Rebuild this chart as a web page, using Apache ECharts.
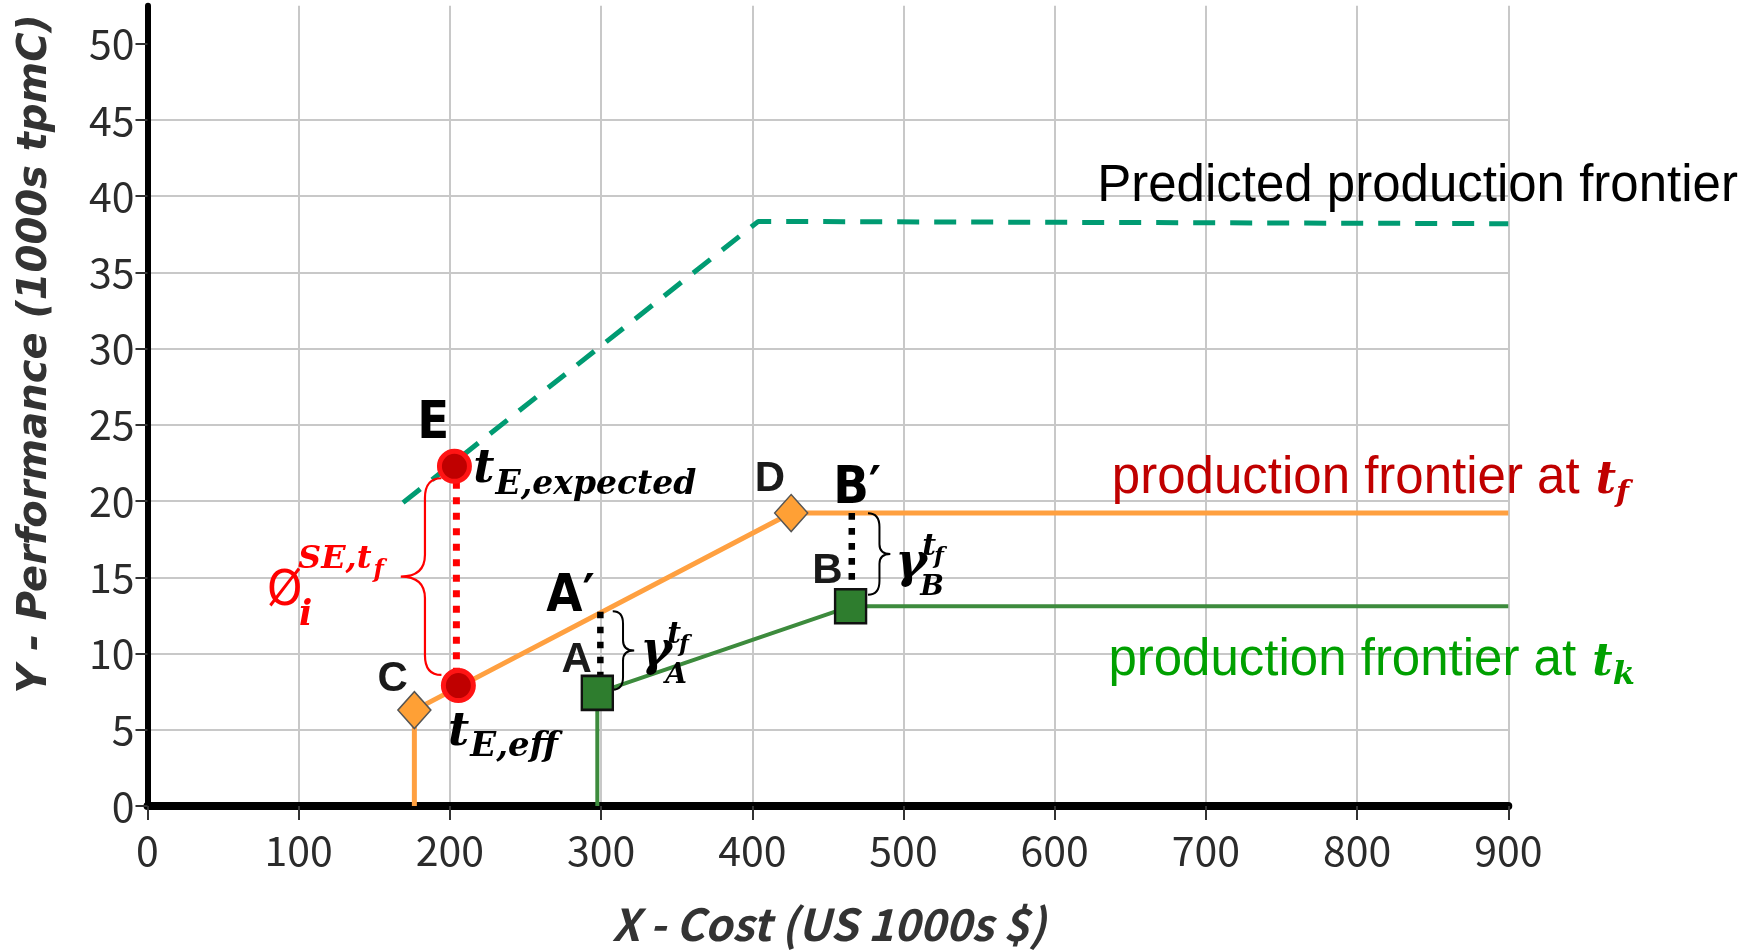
<!DOCTYPE html>
<html>
<head>
<meta charset="utf-8">
<script src="https://cdn.jsdelivr.net/npm/echarts@6/dist/echarts.min.js"></script>
<style>
html,body{margin:0;padding:0;background:#fff;}
#c{width:1761px;height:951px;}
</style>
</head>
<body>
<div id="c"></div>
<script>
// ---------------- data ----------------
const xTicks = [0, 100, 200, 300, 400, 500, 600, 700, 800, 900];
const yTicks = [0, 5, 10, 15, 20, 25, 30, 35, 40, 45, 50];

// production frontier at t_f (orange): vertical from C, C -> D, flat after D
const frontierTf = [[176.5, 0], [176.5, 6.29], [425.7, 19.22], [900, 19.22]];
// production frontier at t_k (green): vertical from A, A -> B, flat after B
const frontierTk = [[297.5, 0], [297.5, 7.42], [465, 13.1], [900, 13.1]];
// predicted production frontier (dashed)
const predicted = [[169, 19.9], [404, 38.35], [900, 38.2]];

const pointsCD = [[176.5, 6.29], [425.7, 19.22]];   // C, D (diamonds)
const pointsAB = [[297.5, 7.42], [465, 13.1]];      // A, B (squares)
const pointsE = [[203, 22.28], [205.6, 7.9]];       // E expected, E eff (circles)

const gapE = [[204.3, 22.28], [204.3, 7.9]];        // red dotted E -> E,eff
const gapA = [[299.5, 12.75], [299.5, 7.42]];       // A' -> A
const gapB = [[465.8, 19.22], [465.8, 13.1]];       // B' -> B

// braces: [xEnd, xSpine, xTip, yTop, yBottom] in data units
const braces = [
  [194.4, 183.5, 167.5, 21.5, 8.6],
  [307.7, 314.5, 321.9, 12.77, 7.63],
  [476.5, 484.1, 491.3, 19.2, 13.86]
];

// ---------------- text helpers ----------------
const mctx = document.createElement('canvas').getContext('2d');
function tw(text, font) { mctx.font = font; mctx.textBaseline = 'alphabetic'; return mctx.measureText(text).width; }
const midCache = {};
function midToBase(font) {
  if (midCache[font] != null) return midCache[font];
  mctx.font = font;
  mctx.textBaseline = 'middle';
  const a = mctx.measureText('H').actualBoundingBoxDescent;
  mctx.textBaseline = 'alphabetic';
  const b = mctx.measureText('H').actualBoundingBoxDescent;
  return (midCache[font] = a - b);
}

const COND = '"DejaVu Sans Condensed", "Liberation Sans", sans-serif';
const SRC = '"Noto Sans CJK KR", "Noto Sans", sans-serif';
const F_PT = 'bold 42px "Liberation Sans", Arial, sans-serif';
const F_BIG = 'bold 52px ' + COND;
const M = s => 'italic bold ' + s + 'px "DejaVu Serif", serif';
const F_TXT = '51px "Liberation Sans", Arial, sans-serif';
const F_PHI = '50px ' + COND;

// annotation texts: anchor = [x, baseline y] in data units
const labels = [
  { at: [162.1, 7.57], align: 'center', c: '#1a1a1a', p: [{ t: 'C', f: F_PT }] },
  { at: [411.7, 20.65], align: 'center', c: '#1a1a1a', p: [{ t: 'D', f: F_PT }] },
  { at: [283.9, 8.8], align: 'center', c: '#1a1a1a', p: [{ t: 'A', f: F_PT }] },
  { at: [449.7, 14.65], align: 'center', c: '#1a1a1a', p: [{ t: 'B', f: F_PT }] },
  { at: [178.4, 24.16], c: '#000', p: [{ t: 'E', f: F_BIG }] },
  { at: [263.8, 12.77], c: '#000', p: [{ t: 'A\u2032', f: F_BIG }] },
  { at: [453.5, 19.88], c: '#000', p: [{ t: 'B\u2032', f: F_BIG }] },
  { at: [215.5, 21.24], c: '#000', p: [{ t: 't', f: M(46) }, { t: 'E,expected', f: M(33), dy: 12, gap: 1 }] },
  { at: [198.8, 3.99], c: '#000', p: [{ t: 't', f: M(46) }, { t: 'E,eff', f: M(34), dy: 11, gap: 1 }] },
  { at: [79.1, 13.21], c: '#FF0000', p: [
      { t: '\u00D8', f: F_PHI },
      { t: 'SE,t', f: M(32), dx: 31, dy: -37 },
      { t: 'f', f: M(24), dy: -28, gap: 2 },
      { t: 'i', f: M(35), dx: 32, dy: 20 }] },
  { at: [325.9, 9.27], c: '#000', p: [
      { t: '\u03B3', f: M(48) },
      { t: 't', f: M(30), dx: 27, dy: -22 },
      { t: 'f', f: M(23), dy: -14, gap: -2 },
      { t: 'A', f: M(28), dx: 25, dy: 18 }] },
  { at: [494.5, 15.04], c: '#000', p: [
      { t: '\u03B3', f: M(48) },
      { t: 't', f: M(30), dx: 27, dy: -22 },
      { t: 'f', f: M(23), dy: -14, gap: -2 },
      { t: 'B', f: M(28), dx: 25, dy: 18 }] },
  { at: [628.1, 39.7], c: '#000', p: [{ t: 'Predicted production frontier', f: F_TXT }] },
  { at: [637.8, 20.53], c: '#C00000', p: [
      { t: 'production frontier at ', f: F_TXT },
      { t: 't', f: M(44), gap: 2 },
      { t: 'f', f: M(30), dy: 9, gap: 0 }] },
  { at: [635.5, 8.62], c: '#00A000', p: [
      { t: 'production frontier at ', f: F_TXT },
      { t: 't', f: M(44), gap: 2 },
      { t: 'k', f: M(32), dy: 9, gap: 0 }] }
];

function renderLabel(params, api) {
  const L = labels[params.dataIndex];
  const p = api.coord(L.at);
  let x0 = p[0];
  if (L.align === 'center') {
    let w = 0;
    L.p.forEach(pc => { w += tw(pc.t, pc.f); });
    x0 -= w / 2;
  }
  let cursor = x0;
  const children = [];
  L.p.forEach(pc => {
    const px = pc.dx != null ? x0 + pc.dx : cursor + (pc.gap || 0);
    const y = p[1] + (pc.dy || 0) - midToBase(pc.f);
    children.push({
      type: 'text', x: px, y: y,
      style: { text: pc.t, font: pc.f, fill: pc.c || L.c, align: 'left', verticalAlign: 'middle' }
    });
    cursor = px + tw(pc.t, pc.f);
  });
  return { type: 'group', children: children };
}

function renderBrace(params, api) {
  const b = braces[params.dataIndex];
  const pe = api.coord([b[0], b[3]]);
  const pb = api.coord([b[0], b[4]]);
  const sx = api.coord([b[1], b[3]])[0];
  const tx = api.coord([b[2], b[3]])[0];
  const ex = pe[0], y1 = pe[1], y2 = pb[1], ym = (y1 + y2) / 2;
  const r1 = Math.min(Math.abs(ex - sx) * 1.2, (y2 - y1) / 4);
  const r2 = Math.min(Math.abs(tx - sx) * 0.9, (y2 - y1) / 4);
  const d = 'M' + ex + ' ' + y1 +
    ' Q' + sx + ' ' + y1 + ' ' + sx + ' ' + (y1 + r1) +
    ' L' + sx + ' ' + (ym - r2) +
    ' Q' + sx + ' ' + ym + ' ' + tx + ' ' + ym +
    ' Q' + sx + ' ' + ym + ' ' + sx + ' ' + (ym + r2) +
    ' L' + sx + ' ' + (y2 - r1) +
    ' Q' + sx + ' ' + y2 + ' ' + ex + ' ' + y2;
  const red = params.dataIndex === 0;
  return {
    type: 'path', shape: { pathData: d },
    style: { fill: 'none', stroke: red ? '#FF0000' : '#000', lineWidth: red ? 2.2 : 2 }
  };
}

// ---------------- chart ----------------
const chart = echarts.init(document.getElementById('c'), null, { renderer: 'canvas', width: 1761, height: 951 });

const tickFont = { fontFamily: SRC, fontSize: 41, color: '#2b2b2b' };

const option = {
  animation: false,
  backgroundColor: '#fff',
  grid: { left: 147.5, right: 252.7, top: 5.7, bottom: 144.6, containLabel: false },
  xAxis: {
    type: 'value', min: 0, max: 900, interval: 100,
    name: 'X - Cost (US 1000s $)', nameLocation: 'middle', nameGap: 96,
    nameTextStyle: { fontFamily: SRC, fontWeight: 'bold', fontStyle: 'italic', fontSize: 44, color: '#333', padding: [0, 0, 0, 2] },
    axisLine: { show: true, onZero: false, lineStyle: { color: '#000', width: 8 } },
    axisTick: { show: true, length: 14, lineStyle: { color: '#333', width: 2 }, customValues: xTicks },
    axisLabel: Object.assign({ margin: 24, customValues: xTicks }, tickFont),
    splitLine: { show: true, showMinLine: false, lineStyle: { color: '#c8c8c8', width: 2 } }
  },
  yAxis: {
    type: 'value', min: 0, max: 52.5, interval: 5,
    name: 'Y - Performance (1000s tpmC)', nameLocation: 'middle', nameGap: 92,
    nameTextStyle: { fontFamily: '"DejaVu Sans", sans-serif', fontWeight: 'bold', fontStyle: 'italic', fontSize: 40, color: '#333', padding: [0, 0, 0, 104] },
    axisLine: { show: true, onZero: false, lineStyle: { color: '#000', width: 6 } },
    axisTick: { show: true, length: 12, lineStyle: { color: '#333', width: 2 }, customValues: yTicks },
    axisLabel: Object.assign({ margin: 13, customValues: yTicks }, tickFont),
    splitLine: { show: true, showMinLine: false, showMaxLine: false, lineStyle: { color: '#c8c8c8', width: 2 } }
  },
  series: [
    { type: 'line', data: predicted, showSymbol: false, symbol: 'none', z: 3,
      lineStyle: { color: '#009B72', width: 5, type: [22, 15] } },
    { type: 'line', data: frontierTf, showSymbol: false, symbol: 'none', z: 3,
      lineStyle: { color: '#FFA040', width: 5 } },
    { type: 'line', data: frontierTk, showSymbol: false, symbol: 'none', z: 3,
      lineStyle: { color: '#3D8B3D', width: 4 } },
    { type: 'line', data: gapE, showSymbol: false, symbol: 'none', z: 4,
      lineStyle: { color: '#FF0000', width: 7, type: [7, 8.5] } },
    { type: 'line', data: gapA, showSymbol: false, symbol: 'none', z: 4,
      lineStyle: { color: '#000', width: 6.5, type: [6.7, 8.3] } },
    { type: 'line', data: gapB, showSymbol: false, symbol: 'none', z: 4,
      lineStyle: { color: '#000', width: 6.5, type: [6.7, 8.3] } },
    { type: 'custom', data: braces.map((b, i) => [b[0], b[3], i]), renderItem: renderBrace, z: 5, silent: true, clip: false },
    { type: 'scatter', data: pointsCD, symbol: 'diamond', symbolSize: [33, 37], z: 6,
      itemStyle: { color: '#FFA035', borderColor: '#555', borderWidth: 1.5, opacity: 1 } },
    { type: 'scatter', data: pointsAB, symbol: 'rect', symbolSize: [31, 34], z: 6,
      itemStyle: { color: '#2E7D2E', borderColor: '#111', borderWidth: 2.5, opacity: 1 } },
    { type: 'scatter', data: pointsE, symbol: 'circle', symbolSize: 30, z: 6,
      itemStyle: { color: '#C00000', borderColor: '#FF1414', borderWidth: 5, opacity: 1 } },
    { type: 'custom', data: labels.map((l, i) => [l.at[0], l.at[1], i]), renderItem: renderLabel, z: 10, silent: true, clip: false }
  ]
};
chart.setOption(option);
</script>
</body>
</html>
